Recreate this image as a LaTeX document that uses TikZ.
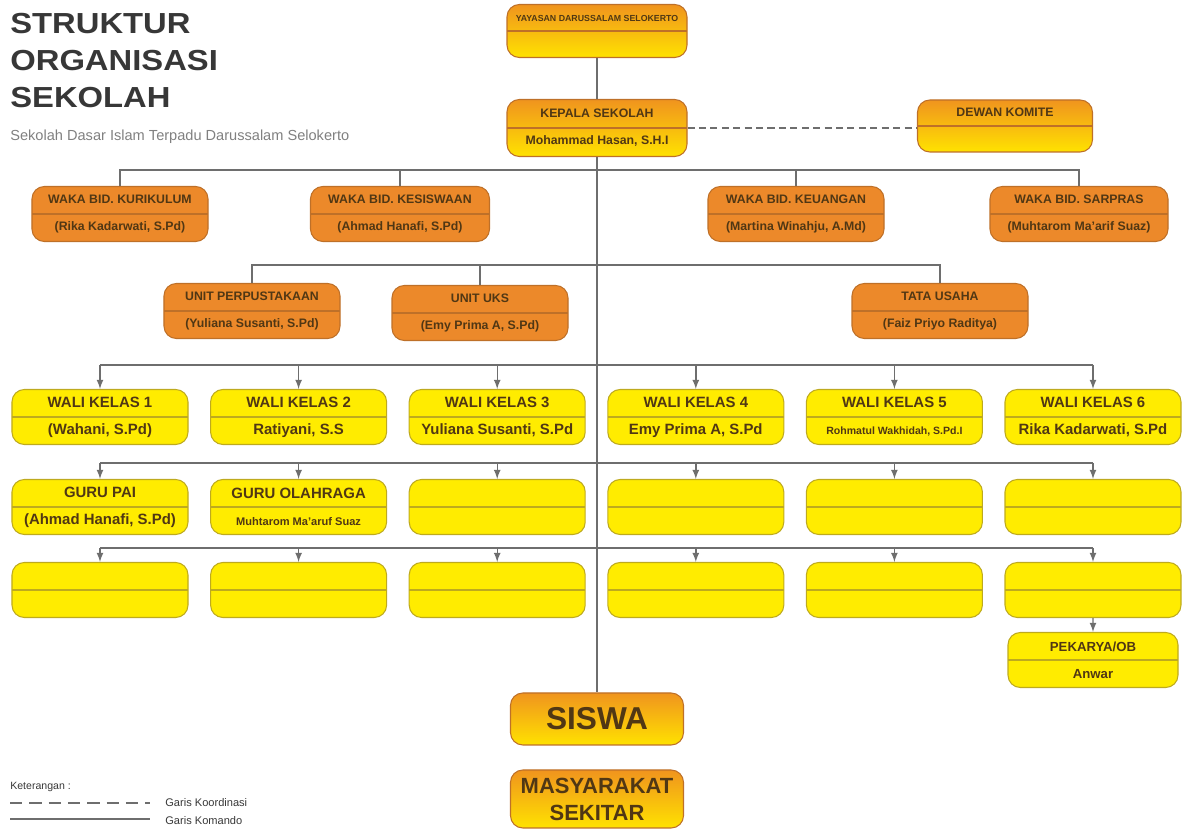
\documentclass[tikz,border=0pt]{standalone}
\usepackage{fontspec}
\setmainfont{Liberation Sans}
\definecolor{ortop}{RGB}{240,148,30}
\definecolor{yebot}{RGB}{255,226,0}
\definecolor{orfill}{RGB}{236,137,42}
\definecolor{edgeo}{RGB}{190,112,40}
\definecolor{yefill}{RGB}{255,236,0}
\definecolor{edgey}{RGB}{190,170,30}
\definecolor{linegray}{RGB}{110,110,110}
\definecolor{txt}{RGB}{80,55,20}
\definecolor{ttl}{RGB}{55,55,55}
\tikzset{
  org/.style={rounded corners=7pt, draw=#1, line width=0.6pt, minimum width=35.2mm,
    minimum height=11mm, inner sep=1pt, align=center, text=txt,
    font=\bfseries\fontsize{7}{15.3}\selectfont},
  split/.style={path picture={\draw[#1,line width=0.6pt] (path picture bounding box.west) -- (path picture bounding box.east);}},
  topbox/.style={org=edgeo, top color=ortop, bottom color=yebot, split=edgeo},
  bigbox/.style={org=edgeo, top color=ortop, bottom color=yebot},
  wakabox/.style={org=edgeo, fill=orfill, split=edgeo},
  walibox/.style={org=edgey, fill=yefill, split=edgey, font=\bfseries\fontsize{8.5}{15.3}\selectfont},
  line/.style={draw=linegray, line width=0.8pt},
}
\begin{document}
\begin{tikzpicture}[x=0.2mm, y=-0.2mm, >=latex]
\useasboundingbox (0,0) rectangle (1183,830);

% Title
\node[anchor=north west, align=left, inner sep=0pt, text=ttl,
  font=\bfseries\fontsize{16.5}{21}\selectfont] (title) at (10,13)
  {\scalebox{1.13}[1]{STRUKTUR}\\\scalebox{1.13}[1]{ORGANISASI}\\\scalebox{1.13}[1]{SEKOLAH}};
\node[anchor=west, inner sep=0pt, text=gray, font=\fontsize{8.3}{10}\selectfont] (sub) at (10,137)
  {Sekolah Dasar Islam Terpadu Darussalam Selokerto};

% Top of the chart
\node[topbox, minimum width=36mm, minimum height=10.6mm,
  font=\bfseries\fontsize{5}{14.7}\selectfont] (yay) at (597,31) {YAYASAN DARUSSALAM SELOKERTO\\\phantom{X}};
\node[topbox, minimum width=36mm, minimum height=11.4mm] (kep) at (597,128)
  {KEPALA SEKOLAH\\Mohammad Hasan, S.H.I};
\node[topbox, minimum width=35mm, minimum height=10.4mm] (dew) at (1005,126) {DEWAN KOMITE\\\phantom{X}};

% Waka
\node[wakabox] (kur) at (120,214) {WAKA BID. KURIKULUM\\(Rika Kadarwati, S.Pd)};
\node[wakabox, minimum width=35.8mm] (kes) at (400,214) {WAKA BID. KESISWAAN\\(Ahmad Hanafi, S.Pd)};
\node[wakabox] (keu) at (796,214) {WAKA BID. KEUANGAN\\(Martina Winahju, A.Md)};
\node[wakabox, minimum width=35.6mm] (sar) at (1079,214) {WAKA BID. SARPRAS\\(Muhtarom Ma'arif Suaz)};

% Units
\node[wakabox] (per) at (252,311) {UNIT PERPUSTAKAAN\\(Yuliana Susanti, S.Pd)};
\node[wakabox] (uks) at (480,313) {UNIT UKS\\(Emy Prima A, S.Pd)};
\node[wakabox] (tu) at (940,311) {TATA USAHA\\(Faiz Priyo Raditya)};

% Wali kelas
\foreach \i/\jab/\nm in {1/{WALI KELAS 1}/{(Wahani, S.Pd)}, 2/{WALI KELAS 2}/{Ratiyani, S.S},
    3/{WALI KELAS 3}/{Yuliana Susanti, S.Pd}, 4/{WALI KELAS 4}/{Emy Prima A, S.Pd},
    5/{WALI KELAS 5}/{{\fontsize{6}{7}\selectfont Rohmatul Wakhidah, S.Pd.I}},
    6/{WALI KELAS 6}/{Rika Kadarwati, S.Pd}}
  \node[walibox] (w\i) at ({100+(\i-1)*198.6},417) {\jab\\\nm};

% Guru
\foreach \i/\jab/\nm in {1/{GURU PAI}/{(Ahmad Hanafi, S.Pd)},
    2/{GURU OLAHRAGA}/{{\fontsize{6.3}{7}\selectfont Muhtarom Ma'aruf Suaz}},
    3/{}/{}, 4/{}/{}, 5/{}/{}, 6/{}/{}}
  \node[walibox] (g\i) at ({100+(\i-1)*198.6},507) {\jab\\\nm};

% Empty row
\foreach \i in {1,...,6}
  \node[walibox] (r\i) at ({100+(\i-1)*198.6},590) {};

\node[walibox, minimum width=34mm, font=\bfseries\fontsize{7.5}{15.3}\selectfont] (pek) at (1093,660)
  {PEKARYA/OB\\Anwar};

% Bottom
\node[bigbox, minimum width=34.6mm, minimum height=10.4mm, font=\bfseries\fontsize{18}{20}\selectfont] (sis) at (597,719) {SISWA};
\node[bigbox, minimum width=34.6mm, minimum height=11.6mm, font=\bfseries\fontsize{12.5}{15.3}\selectfont] (mas) at (597,799)
  {MASYARAKAT\\SEKITAR};

% Lines
\coordinate (b1) at (597,170);
\coordinate (b2) at (597,265);
\coordinate (b3) at (597,365);
\coordinate (b4) at (597,463);
\coordinate (b5) at (597,548);

\draw[line] (yay) -- (kep);
\draw[line] (kep) -- (sis);
\draw[line, dash pattern=on 4pt off 2.5pt] (kep.east) -- (kep.east -| dew.west);

\draw[line] (kur.north) |- (b1) -| (sar.north);
\draw[line] (kes.north) -- (kes.north |- b1);
\draw[line] (keu.north) -- (keu.north |- b1);

\draw[line] (per.north) |- (b2) -| (tu.north);
\draw[line] (uks.north) -- (uks.north |- b2);

\draw[line] (w1.north |- b3) -- (w6.north |- b3);
\draw[line] (g1.north |- b4) -- (g6.north |- b4);
\draw[line] (r1.north |- b5) -- (r6.north |- b5);
\foreach \i in {1,...,6} {
  \draw[line,->] (w\i.north |- b3) -- (w\i.north);
  \draw[line,->] (g\i.north |- b4) -- (g\i.north);
  \draw[line,->] (r\i.north |- b5) -- (r\i.north);
}
\draw[line,->] (r6) -- (pek);

% Legend
\node[anchor=west, inner sep=0pt, text=ttl, font=\fontsize{6}{7}\selectfont] (ket) at (10,787) {Keterangan :};
\node[anchor=west, inner sep=0pt, text=ttl, font=\fontsize{6.3}{7}\selectfont] (koor) at (165,803) {Garis Koordinasi};
\node[anchor=west, inner sep=0pt, text=ttl, font=\fontsize{6.3}{7}\selectfont] (kom) at (165,821) {Garis Komando};
\draw[line, dash pattern=on 7pt off 4pt] (10,803) -- (150,803);
\draw[line] (10,819) -- (150,819);
\end{tikzpicture}
\end{document}
